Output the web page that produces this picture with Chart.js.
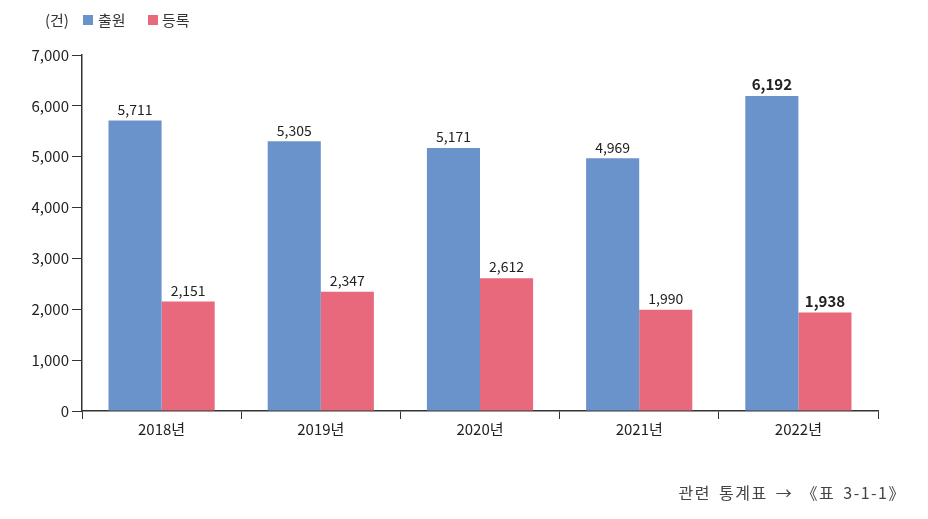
<!DOCTYPE html>
<html>
<head>
<meta charset="utf-8">
<script src="https://cdn.jsdelivr.net/npm/chart.js@4/dist/chart.umd.min.js"></script>
<style>
  html, body { margin: 0; padding: 0; background: #fff; }
  #wrap { position: relative; width: 928px; height: 519px; }
  #note { position: absolute; right: 22px; top: 480px; font: 16px "Noto Sans CJK KR", sans-serif; color: #444; letter-spacing: 1.5px; word-spacing: 3px; }
</style>
</head>
<body>
<div id="wrap">
  <canvas id="chart" width="928" height="519"></canvas>
  <div id="note">관련 통계표 → 《표 3-1-1》</div>
</div>
<script>
const years = ['2018년', '2019년', '2020년', '2021년', '2022년'];
const applications = [5711, 5305, 5171, 4969, 6192];
const registrations = [2151, 2347, 2612, 1990, 1938];
const yTicks = [0, 1000, 2000, 3000, 4000, 5000, 6000, 7000];

const FONT = '"Noto Sans CJK KR", "Noto Sans", sans-serif';
const BLUE = '#6a93cc';
const RED = '#e8697b';

const valueLabels = {
  id: 'valueLabels',
  afterDatasetsDraw(chart) {
    const ctx = chart.ctx;
    ctx.save();
    ctx.textAlign = 'center';
    ctx.textBaseline = 'bottom';
    ctx.fillStyle = '#222';
    chart.data.datasets.forEach((ds, i) => {
      chart.getDatasetMeta(i).data.forEach((bar, j) => {
        const last = j === ds.data.length - 1;
        ctx.font = (last ? 'bold 15px ' : '14px ') + FONT;
        ctx.fillText(ds.data[j].toLocaleString('en-US'), bar.x, bar.y - 4);
      });
    });
    ctx.restore();
  }
};

const unitLegend = {
  id: 'unitLegend',
  afterDraw(chart) {
    const ctx = chart.ctx;
    ctx.save();
    ctx.font = '15px ' + FONT;
    ctx.textBaseline = 'middle';
    ctx.fillStyle = '#333';
    ctx.fillText('(건)', 45, 20);
    ctx.fillStyle = BLUE;
    ctx.fillRect(83, 15, 10, 10);
    ctx.fillStyle = '#333';
    ctx.fillText('출원', 98, 20);
    ctx.fillStyle = RED;
    ctx.fillRect(148, 15, 10, 10);
    ctx.fillStyle = '#333';
    ctx.fillText('등록', 162, 20);
    ctx.restore();
  }
};

new Chart(document.getElementById('chart'), {
  type: 'bar',
  data: {
    labels: years,
    datasets: [
      { label: '출원', data: applications, backgroundColor: BLUE },
      { label: '등록', data: registrations, backgroundColor: RED }
    ]
  },
  options: {
    responsive: false,
    animation: false,
    layout: { padding: { top: 55, right: 50, bottom: 0, left: 0 } },
    plugins: { legend: { display: false }, tooltip: { enabled: false } },
    datasets: { bar: { categoryPercentage: 0.667, barPercentage: 1 } },
    scales: {
      x: {
        grid: { display: true, drawOnChartArea: false, drawTicks: true, tickLength: 8, color: '#333', offset: true },
        border: { display: true, color: '#333', width: 1.5 },
        ticks: { color: '#222', font: { family: FONT, size: 15 }, padding: 1 },
        afterFit(scale) { scale.height = 108; }
      },
      y: {
        min: 0,
        max: 7000,
        afterBuildTicks(scale) { scale.ticks = yTicks.map(v => ({ value: v })); },
        grid: { display: true, drawOnChartArea: false, drawTicks: true, tickLength: 10, color: '#333' },
        border: { display: true, color: '#333', width: 1.5 },
        ticks: {
          color: '#222',
          font: { family: FONT, size: 15 },
          padding: 3,
          callback: v => v.toLocaleString('en-US')
        },
        afterFit(scale) { scale.width = 82; }
      }
    }
  },
  plugins: [valueLabels, unitLegend]
});
</script>
</body>
</html>
